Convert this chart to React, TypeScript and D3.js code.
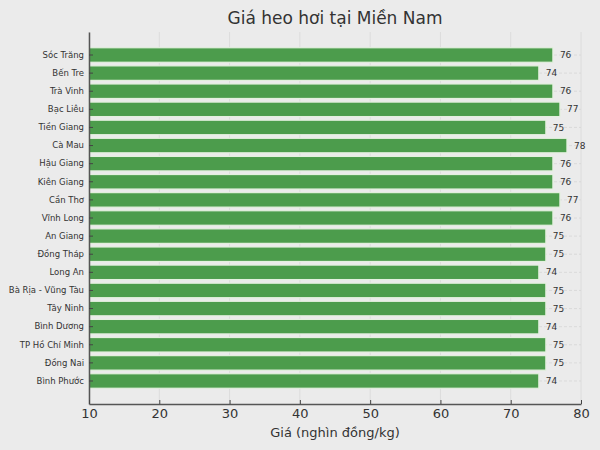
import React, { useEffect, useRef } from 'react';
import * as d3 from 'd3';

const W = 600;
const H = 450;
const margin = { top: 32, right: 19, bottom: 46, left: 89 };

const provinces = [
  'Sóc Trăng', 'Bến Tre', 'Trà Vinh', 'Bạc Liêu', 'Tiền Giang', 'Cà Mau',
  'Hậu Giang', 'Kiên Giang', 'Cần Thơ', 'Vĩnh Long', 'An Giang', 'Đồng Tháp',
  'Long An', 'Bà Rịa - Vũng Tàu', 'Tây Ninh', 'Bình Dương', 'TP Hồ Chí Minh',
  'Đồng Nai', 'Bình Phước',
];
const prices = [76, 74, 76, 77, 75, 78, 76, 76, 77, 76, 75, 75, 74, 75, 75, 74, 75, 75, 74];
const xTicks = [10, 20, 30, 40, 50, 60, 70, 80];

const font = '"DejaVu Sans", sans-serif';

export default function App() {
  const gRef = useRef<SVGGElement>(null);

  useEffect(() => {
    const g = d3.select(gRef.current);
    g.selectAll('*').remove();
    const iw = W - margin.left - margin.right;
    const ih = H - margin.top - margin.bottom;

    const x = d3.scaleLinear().domain([10, 80]).range([0, iw]);
    const y = d3
      .scaleBand()
      .domain(provinces)
      .range([0, ih])
      .paddingInner(0.2)
      .paddingOuter(0.87);

    // plot background
    g.append('rect').attr('width', iw).attr('height', ih).attr('fill', '#ebebeb');

    // vertical grid
    g.append('g')
      .selectAll('line')
      .data(xTicks)
      .join('line')
      .attr('x1', (d) => x(d))
      .attr('x2', (d) => x(d))
      .attr('y1', 0)
      .attr('y2', ih)
      .attr('stroke', '#dcdcdc')
      .attr('stroke-width', 1);

    // horizontal grid at each category
    g.append('g')
      .selectAll('line')
      .data(provinces)
      .join('line')
      .attr('x1', 0)
      .attr('x2', iw)
      .attr('y1', (d) => y(d)! + y.bandwidth() / 2)
      .attr('y2', (d) => y(d)! + y.bandwidth() / 2)
      .attr('stroke', '#d6d6d6')
      .attr('stroke-dasharray', '3,2')
      .attr('stroke-width', 0.8);

    const data = provinces.map((p, i) => ({ p, v: prices[i] }));

    // bars
    g.append('g')
      .selectAll('rect')
      .data(data)
      .join('rect')
      .attr('x', x(10))
      .attr('y', (d) => y(d.p)!)
      .attr('width', (d) => x(d.v) - x(10))
      .attr('height', y.bandwidth())
      .attr('fill', '#4c9c4c')
      .attr('stroke', '#e4f0df')
      .attr('stroke-width', 1.2);

    // value labels
    g.append('g')
      .selectAll('text')
      .data(data)
      .join('text')
      .attr('x', (d) => x(d.v) + 7)
      .attr('y', (d) => y(d.p)! + y.bandwidth() / 2)
      .attr('dy', '0.35em')
      .attr('font-size', 9)
      .attr('font-family', font)
      .attr('fill', '#333')
      .text((d) => d.v);

    // y axis
    const yAxis = g.append('g').call(d3.axisLeft(y).tickSizeInner(-4).tickSizeOuter(0).tickPadding(5));
    yAxis.select('.domain').attr('stroke', '#555').attr('stroke-width', 1.5);
    yAxis.selectAll('.tick line').attr('stroke', '#444');
    yAxis
      .selectAll('.tick text')
      .attr('font-size', 8.5)
      .attr('font-family', font)
      .attr('fill', '#333');

    // x axis
    const xAxis = g
      .append('g')
      .attr('transform', `translate(0,${ih})`)
      .call(d3.axisBottom(x).tickValues(xTicks).tickSizeInner(-4).tickSizeOuter(0).tickPadding(5));
    xAxis.select('.domain').attr('stroke', '#555').attr('stroke-width', 1.5);
    xAxis.selectAll('.tick line').attr('stroke', '#444');
    xAxis
      .selectAll('.tick text')
      .attr('font-size', 13)
      .attr('font-family', font)
      .attr('fill', '#333');
  }, []);

  return (
    <svg
      width={W}
      height={H}
      style={{ display: 'block', position: 'absolute', left: 0, top: 0, background: '#ebebeb' }}
    >
      <text
        x={margin.left + (W - margin.left - margin.right) / 2}
        y={24}
        textAnchor="middle"
        fontSize={17}
        fontFamily={font}
        fill="#333"
      >
        Giá heo hơi tại Miền Nam
      </text>
      <g ref={gRef} transform={`translate(${margin.left},${margin.top})`} />
      <text
        x={margin.left + (W - margin.left - margin.right) / 2}
        y={437}
        textAnchor="middle"
        fontSize={13}
        fontFamily={font}
        fill="#333"
      >
        Giá (nghìn đồng/kg)
      </text>
    </svg>
  );
}
